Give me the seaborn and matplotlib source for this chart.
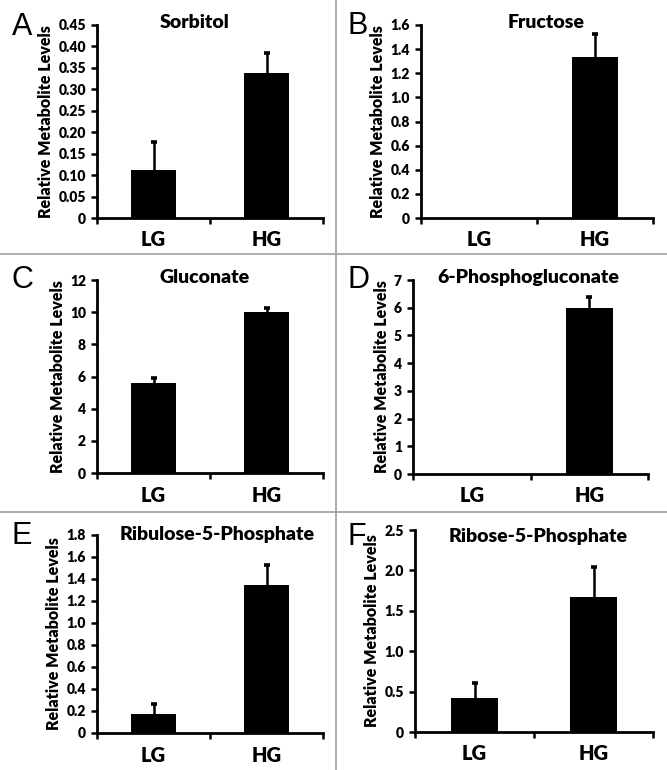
import matplotlib
matplotlib.use("Agg")
import matplotlib.pyplot as plt
from matplotlib.lines import Line2D
from matplotlib.ticker import FixedLocator, FuncFormatter
import seaborn as sns
import pandas as pd

# ---- data ----
panel_letters = ["A", "B", "C", "D", "E", "F"]
metabolites = ["Sorbitol", "Fructose", "Gluconate", "6-Phosphogluconate",
               "Ribulose-5-Phosphate", "Ribose-5-Phosphate"]
groups = ["LG", "HG"]
lg_means = [0.111, 0.0, 5.57, 0.0, 0.171, 0.42]
hg_means = [0.339, 1.333, 10.04, 5.98, 1.348, 1.676]
lg_err = [0.067, 0.0, 0.31, 0.0, 0.097, 0.185]
hg_err = [0.045, 0.193, 0.25, 0.41, 0.177, 0.371]
y_max = [0.45, 1.6, 12, 7, 1.8, 2.5]
y_step = [0.05, 0.2, 2, 1, 0.2, 0.5]
y_decimals = [2, 1, 0, 0, 1, 1]
ylabel = "Relative Metabolite Levels"

# ---- layout (pixels) ----
W, H = 667, 770
boxes_px = [(97, 25, 323, 218), (421, 25, 653, 218),
            (97, 280, 323, 473), (413, 280, 648, 474),
            (97, 535, 323, 733), (415, 530, 653, 732)]
letter_px = [(12, 35), (347, 34), (12, 288), (347, 288), (12, 544), (347, 545)]
title_cx = [195, 546, 205, 528, 217, 538]
title_base = [28, 28, 283, 283, 540, 542]

sns.set_theme(style="white")
plt.rcParams["font.family"] = ["Lato", "DejaVu Sans"]

fig = plt.figure(figsize=(W / 100, H / 100), dpi=100)
fig.patch.set_facecolor("white")

for i in range(6):
    l, t, r, b = boxes_px[i]
    ax = fig.add_axes([l / W, 1 - b / H, (r - l) / W, (b - t) / H])
    df = pd.DataFrame({"group": groups, "value": [lg_means[i], hg_means[i]]})
    sns.barplot(data=df, x="group", y="value", order=groups, color="black",
                saturation=1, width=0.4, edgecolor="black", linewidth=0, ax=ax,
                errorbar=None)
    for xi, (m, e) in enumerate([(lg_means[i], lg_err[i]), (hg_means[i], hg_err[i])]):
        if e <= 0:
            continue
        _, caps, _ = ax.errorbar([xi], [m], yerr=[[0], [e]], fmt="none",
                                 ecolor="black", elinewidth=1.8, capsize=2.4,
                                 capthick=2.6)
        caps[0].set_visible(False)
    ax.set_xlim(-0.5, 1.5)
    ax.set_ylim(0, y_max[i])
    n = int(round(y_max[i] / y_step[i]))
    ticks = [k * y_step[i] for k in range(n + 1)]
    ax.yaxis.set_major_locator(FixedLocator(ticks))
    dec = y_decimals[i]
    ax.yaxis.set_major_formatter(FuncFormatter(
        lambda v, p, d=dec: "0" if abs(v) < 1e-9 else f"{v:.{d}f}"))
    ax.set_xticks([0, 1])
    ax.set_xticklabels(groups)
    ax.set_xticks([-0.5, 0.5, 1.5], minor=True)
    ax.tick_params(axis="x", which="major", length=0, pad=9, labelsize=14.5)
    ax.tick_params(axis="x", which="minor", length=4, width=1.8, color="black",
                   direction="out", bottom=True)
    ax.tick_params(axis="y", which="major", length=4, width=1.8, color="black",
                   direction="out", left=True, labelsize=10, pad=4)
    for lab in ax.get_xticklabels() + ax.get_yticklabels():
        lab.set_fontweight("heavy")
        lab.set_color("black")
    ax.set_xlabel("")
    ax.set_ylabel(ylabel, fontsize=11.5, fontweight="heavy", color="black",
                  labelpad=3)
    for s in ["top", "right"]:
        ax.spines[s].set_visible(False)
    for s in ["left", "bottom"]:
        ax.spines[s].set_color("black")
        ax.spines[s].set_linewidth(2)
    ax.set_facecolor("white")
    fig.text(title_cx[i] / W, 1 - title_base[i] / H, metabolites[i],
             ha="center", va="baseline", fontsize=14, fontweight="heavy",
             color="black")
    lx, ly = letter_px[i]
    fig.text(lx / W, 1 - ly / H, panel_letters[i], ha="left", va="baseline",
             fontsize=22, family="Liberation Sans", color="black")

sep = "#a0a0a0"
fig.add_artist(Line2D([336 / W, 336 / W], [0, 1], color=sep, lw=1.2,
                      transform=fig.transFigure))
for yy in (254, 512):
    fig.add_artist(Line2D([0, 1], [1 - yy / H, 1 - yy / H], color=sep, lw=1.2,
                          transform=fig.transFigure))

fig.savefig("out.png", dpi=100, facecolor="white")
